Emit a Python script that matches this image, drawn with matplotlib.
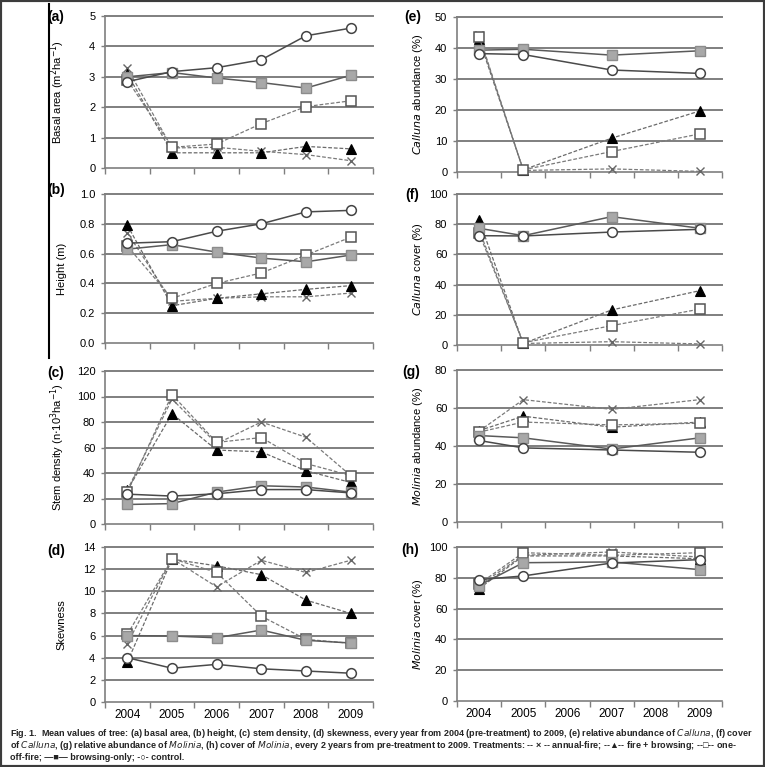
import numpy as np
import matplotlib
matplotlib.use("Agg")
import matplotlib.pyplot as plt
from matplotlib.patches import Rectangle
from matplotlib.lines import Line2D

plt.rcParams['font.family'] = ['Liberation Sans Narrow', 'Liberation Sans', 'DejaVu Sans']
plt.rcParams['mathtext.fontset'] = 'custom'
plt.rcParams['mathtext.it'] = 'Liberation Sans Narrow:italic'
plt.rcParams['mathtext.rm'] = 'Liberation Sans Narrow'

years = ['2004', '2005', '2006', '2007', '2008', '2009']
x_all = [0, 1, 2, 3, 4, 5]
x_veg = [0, 1, 3, 5]   # right column: 2004, 2005, 2007, 2009

treatments = ['annual-fire', 'fire + browsing', 'one-off-fire', 'browsing-only', 'control']

# (a) basal area
basal_annual = [3.28, 0.66, 0.68, 0.55, 0.44, 0.24]
basal_firebrowse = [3.10, 0.50, 0.50, 0.50, 0.71, 0.63]
basal_oneoff = [2.90, 0.68, 0.79, 1.46, 2.02, 2.21]
basal_browse = [3.00, 3.14, 2.96, 2.81, 2.63, 3.05]
basal_control = [2.84, 3.17, 3.30, 3.56, 4.35, 4.60]

# (b) height
height_annual = [0.74, 0.28, 0.30, 0.31, 0.31, 0.335]
height_firebrowse = [0.79, 0.25, 0.30, 0.33, 0.36, 0.385]
height_oneoff = [0.65, 0.30, 0.40, 0.47, 0.59, 0.71]
height_browse = [0.63, 0.66, 0.61, 0.57, 0.545, 0.59]
height_control = [0.67, 0.68, 0.75, 0.80, 0.88, 0.89]

# (c) stem density
stem_annual = [26.5, 98, 63, 80, 68, 38]
stem_firebrowse = [26.5, 86.5, 58, 56.6, 41.7, 32.6]
stem_oneoff = [25, 101.5, 64, 67.8, 47.4, 38]
stem_browse = [15.3, 16, 25, 30, 29, 25]
stem_control = [23.4, 21.9, 23.7, 27, 27, 24.4]

# (d) skewness
skew_annual = [5.27, 12.95, 10.4, 12.8, 11.7, 12.8]
skew_firebrowse = [3.6, 12.9, 12.3, 11.5, 9.2, 8.0]
skew_oneoff = [6.1, 12.95, 11.7, 7.75, 5.66, 5.3]
skew_browse = [6.0, 5.96, 5.8, 6.5, 5.57, 5.33]
skew_control = [4.0, 3.05, 3.4, 3.0, 2.8, 2.6]

# (e) Calluna abundance
callab_annual = [44.1, 0.5, 1.0, 0.2]
callab_firebrowse = [42.8, 0.7, 10.9, 19.7]
callab_oneoff = [43.6, 0.7, 6.6, 12.3]
callab_browse = [39.3, 39.6, 37.7, 39.1]
callab_control = [38.2, 37.9, 32.9, 31.8]

# (f) Calluna cover
callcov_annual = [76.2, 1.0, 2.2, 0.7]
callcov_firebrowse = [82.8, 1.0, 23.2, 36.0]
callcov_oneoff = [74.0, 1.5, 12.8, 23.8]
callcov_browse = [77.3, 72.4, 85.0, 77.3]
callcov_control = [72.4, 72.2, 74.8, 76.6]

# (g) Molinia abundance
molab_annual = [47.8, 64.4, 59.3, 64.4]
molab_firebrowse = [48.1, 55.7, 49.9, 52.6]
molab_oneoff = [47.3, 52.6, 51.1, 52.0]
molab_browse = [45.5, 44.3, 38.4, 44.3]
molab_control = [42.9, 39.0, 37.9, 36.7]

# (h) Molinia cover
molcov_annual = [75.0, 94.6, 96.8, 93.5]
molcov_firebrowse = [73.0, 94.2, 94.2, 92.4]
molcov_oneoff = [76.0, 96.3, 94.6, 96.3]
molcov_browse = [75.0, 89.8, 90.3, 85.3]
molcov_control = [78.8, 81.2, 89.6, 91.8]

styles = {
    'annual-fire': dict(ls=(0, (3, 1.5)), color='#7a7a7a', lw=0.9, marker='x', ms=6,
                        mec='#666666', mfc='none', mew=1.0),
    'fire + browsing': dict(ls=(0, (3, 1.5)), color='#6a6a6a', lw=0.9, marker='^', ms=6.5,
                            mec='black', mfc='black', mew=0.8),
    'one-off-fire': dict(ls=(0, (3, 1.5)), color='#7a7a7a', lw=0.9, marker='s', ms=6.5,
                         mec='#555555', mfc='white', mew=1.1),
    'browsing-only': dict(ls='-', color='#5a5a5a', lw=1.1, marker='s', ms=6.5,
                          mec='#8c8c8c', mfc='#a8a8a8', mew=1.0),
    'control': dict(ls='-', color='#4a4a4a', lw=1.1, marker='o', ms=7,
                    mec='#444444', mfc='white', mew=1.1),
}

fig = plt.figure(figsize=(7.65, 7.67), dpi=100)

W, H = 765.0, 767.0
def box(x0, x1, y0, y1):
    return [x0 / W, 1 - y1 / H, (x1 - x0) / W, (y1 - y0) / H]

panels = [
    ('(a)', box(105, 373, 16, 168), x_all, 5, 1, '%d', 'Basal area (m$^{2}$ha$^{-1}$)',
     [basal_annual, basal_firebrowse, basal_oneoff, basal_browse, basal_control], (47, 17), False),
    ('(b)', box(105, 373, 194, 343), x_all, 1.0, 0.2, '%.1f', 'Height (m)',
     [height_annual, height_firebrowse, height_oneoff, height_browse, height_control], (47, 190), False),
    ('(c)', box(105, 373, 371, 524), x_all, 120, 20, '%d', 'Stem density (n$\\cdot$10$^{3}$ha$^{-1}$)',
     [stem_annual, stem_firebrowse, stem_oneoff, stem_browse, stem_control], (47, 373), False),
    ('(d)', box(105, 373, 547, 702), x_all, 14, 2, '%d', 'Skewness',
     [skew_annual, skew_firebrowse, skew_oneoff, skew_browse, skew_control], (47, 551), True),
    ('(e)', box(457, 722, 17, 172), x_veg, 50, 10, '%d', '$\\it{Calluna}$ abundance (%)',
     [callab_annual, callab_firebrowse, callab_oneoff, callab_browse, callab_control], (404, 17), False),
    ('(f)', box(457, 722, 194, 345), x_veg, 100, 20, '%d', '$\\it{Calluna}$ cover (%)',
     [callcov_annual, callcov_firebrowse, callcov_oneoff, callcov_browse, callcov_control], (405, 195), False),
    ('(g)', box(457, 722, 370, 522), x_veg, 80, 20, '%d', '$\\it{Molinia}$ abundance (%)',
     [molab_annual, molab_firebrowse, molab_oneoff, molab_browse, molab_control], (402, 372), False),
    ('(h)', box(457, 722, 547, 701), x_veg, 100, 20, '%d', '$\\it{Molinia}$ cover (%)',
     [molcov_annual, molcov_firebrowse, molcov_oneoff, molcov_browse, molcov_control], (401, 550), True),
]

for label, rect, xs, ymax, ystep, fmt, ylabel, series, lpos, show_years in panels:
    ax = fig.add_axes(rect)
    ax.set_xlim(-0.5, 5.5)
    ax.set_ylim(0, ymax)
    ticks = np.arange(0, ymax + ystep / 2, ystep)
    for t in ticks[1:]:
        ax.axhline(t, color='#7f7f7f', lw=1.4, zorder=1, clip_on=False)
    for s in ['top', 'right']:
        ax.spines[s].set_visible(False)
    for s in ['left', 'bottom']:
        ax.spines[s].set_color('#7f7f7f')
        ax.spines[s].set_linewidth(1.2)
    ax.set_yticks(ticks)
    ax.set_yticklabels([fmt % t for t in ticks])
    ax.tick_params(axis='y', length=3, width=1, color='#7f7f7f', pad=4, labelsize=8)
    ax.set_xticks(np.arange(-0.5, 6, 1))
    ax.set_xticklabels([])
    ax.set_xticks(x_all, minor=True)
    if show_years:
        ax.set_xticklabels(years, minor=True)
    ax.tick_params(axis='x', which='major', length=4, width=1, color='#7f7f7f')
    ax.tick_params(axis='x', which='minor', length=0, pad=5, labelsize=8.5)
    ax.set_ylabel(ylabel, fontsize=8)
    if xs is x_all:
        ax.yaxis.set_label_coords(-0.142, 0.5)
    else:
        ax.yaxis.set_label_coords(-0.12, 0.5)
    ax.patch.set_alpha(0)
    for name, vals in zip(treatments, series):
        ax.plot(xs, vals, zorder=3, clip_on=False, **styles[name])
    fig.text(lpos[0] / W, 1 - lpos[1] / H, label, fontsize=10, fontweight='bold',
             ha='left', va='center', family=['Liberation Sans', 'DejaVu Sans'])

# vertical rule at left of the upper panels and the outer frame
fig.add_artist(Line2D([49 / W, 49 / W], [1 - 4 / H, 1 - 358 / H], color='black', lw=1.5))
fig.add_artist(Rectangle((0, 0), 1, 1, transform=fig.transFigure, fill=False,
                         edgecolor='#3c3c3c', lw=3))

cap1 = ('Fig. 1.  Mean values of tree: (a) basal area, (b) height, (c) stem density, (d) skewness, '
        'every year from 2004 (pre-treatment) to 2009, (e) relative abundance of $\\it{Calluna}$, (f) cover')
cap2 = ('of $\\it{Calluna}$, (g) relative abundance of $\\it{Molinia}$, (h) cover of $\\it{Molinia}$, '
        'every 2 years from pre-treatment to 2009. Treatments: -- \u00d7 -- annual-fire; --\u25b2-- fire + browsing; --\u25a1-- one-')
cap3 = 'off-fire; \u2014\u25a0\u2014 browsing-only; -\u25cb- control.'
for i, c in enumerate([cap1, cap2, cap3]):
    fig.text(10 / W, 1 - (733 + 12 * i) / H, c, fontsize=6.5, fontweight='bold',
             ha='left', va='center', color='#222222')

fig.savefig('out.png', dpi=100)
